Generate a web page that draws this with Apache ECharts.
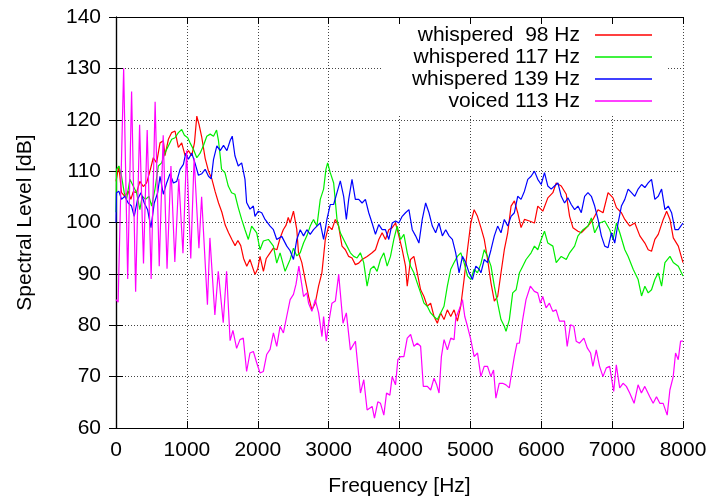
<!DOCTYPE html>
<html>
<head>
<meta charset="utf-8">
<script src="https://cdn.jsdelivr.net/npm/echarts@6/dist/echarts.min.js"></script>
<style>
  html, body { margin: 0; padding: 0; background: #fff; }
  #chart { width: 710px; height: 497px; }
</style>
</head>
<body>
<div id="chart"></div>
<script>
// spectra: [frequency Hz, level dB]
const whisper98 = [
  [0,108],[40,111],[78,105.8],[125,105.1],[172,106.1],[210,104.5],[243,106],[290,105.8],[337,108],[385,107],
  [432,107.7],[479,110],[526,112.6],[573,111.6],[621,115.5],[668,115.9],[691,113],[739,116.2],[786,117.5],[833,117.8],
  [880,114.6],[927,115.5],[975,113],[1022,114],[1069,113],[1107,115.5],[1140,120.7],[1173,119],[1211,116.5],[1258,112.5],
  [1305,110],[1352,108.5],[1399,106],[1447,103.8],[1494,102],[1541,99.5],[1588,98],[1635,96.7],[1680,95.5],[1720,96.5],
  [1760,95.5],[1800,93],[1845,91.5],[1890,92.8],[1961,89.9],[2000,91],[2032,93.4],[2080,90.5],[2120,93],[2174,94.1],
  [2220,95],[2270,94.7],[2316,97],[2360,98.6],[2400,99.5],[2430,101],[2457,99.9],[2504,102.2],[2551,98.6],[2575,94.1],
  [2622,92.2],[2669,88.9],[2717,85.6],[2764,83],[2811,84.3],[2858,87.6],[2905,90.2],[2953,96.7],[3000,99.3],[3047,98.6],
  [3094,100.6],[3141,99.3],[3189,95.4],[3236,94.7],[3283,93.4],[3330,93.1],[3377,91.8],[3425,92.1],[3472,92.8],[3543,93.4],
  [3613,94.1],[3661,94.7],[3708,96.7],[3755,98],[3802,96.7],[3849,98.6],[3897,99],[3944,99.9],[3991,97.4],[4038,94.7],
  [4085,91.5],[4109,87.6],[4156,92.8],[4203,93.4],[4251,90.2],[4298,86.9],[4345,85.6],[4392,83.7],[4439,84.3],[4487,81.7],
  [4534,80.4],[4581,82.4],[4628,81.1],[4675,83],[4723,81.7],[4770,83],[4817,80.8],[4864,83.7],[4911,88.9],[4959,94.7],
  [5006,99.9],[5053,102.5],[5100,101.2],[5149,99],[5196,96.7],[5243,92.8],[5291,88.2],[5338,84.7],[5385,85.6],[5432,90.2],
  [5479,94.7],[5527,98],[5574,103.2],[5621,104.2],[5668,101.9],[5715,99],[5763,100.6],[5833,100.3],[5904,99.9],[5951,103.2],
  [6022,102.2],[6093,104.8],[6164,105.8],[6211,107.7],[6282,107.1],[6353,105.5],[6400,101.2],[6447,99],[6518,98.3],[6565,98],
  [6659,99.3],[6730,100.6],[6801,102.5],[6872,101.9],[6943,105.8],[7013,104.8],[7061,102.9],[7131,101.9],[7179,100.6],[7249,99.3],
  [7320,99.9],[7391,97.4],[7462,96],[7509,94.7],[7556,94.4],[7603,96.7],[7651,97.7],[7721,100.6],[7769,102.2],[7816,100.6],
  [7863,97],[7934,95.4],[8000,92.2]
];

const whisper117 = [
  [0,102],[7,110.3],[40,111],[78,109],[116,105.8],[149,104.5],[196,108.4],[243,107.1],[290,105.8],[337,102.5],
  [370,105.1],[418,104.5],[465,105.1],[503,103.2],[550,106.5],[597,111],[644,111.6],[691,113.6],[739,114.9],[786,116.2],
  [833,116.5],[880,117.5],[927,118.1],[965,117],[1012,116.5],[1045,115.5],[1093,114.2],[1140,112.6],[1187,113.5],[1234,115],
  [1281,116.8],[1329,117.2],[1376,116.8],[1419,118],[1445,116],[1470,113],[1489,110.4],[1537,109.7],[1584,107.1],[1631,105.8],
  [1678,105.5],[1725,102.9],[1773,100.6],[1820,98.6],[1867,96.7],[1914,99.3],[1985,98],[2032,94.7],[2079,96.4],[2150,96.7],
  [2221,95.4],[2268,92.1],[2315,94.1],[2386,90.5],[2457,92.8],[2504,95],[2551,93.5],[2599,94.1],[2646,96],[2693,97.4],
  [2740,99.3],[2787,100.6],[2835,99.3],[2882,104.5],[2929,106.5],[2962,110.35],[2986,111.6],[3023,109.7],[3071,107.7],[3118,100.6],
  [3165,98],[3212,96.7],[3259,95.4],[3307,94.1],[3354,93.4],[3401,93.1],[3448,94.1],[3495,92.2],[3543,87.6],[3590,90.9],
  [3637,91.5],[3684,90.5],[3731,92.8],[3779,94.1],[3826,91.5],[3873,93.4],[3920,96.7],[3967,99.3],[4015,96.7],[4062,97.7],
  [4109,94.1],[4156,91.5],[4203,90.2],[4251,88.2],[4298,86.3],[4345,84.3],[4392,83.7],[4439,82.4],[4487,81.7],[4534,81.1],
  [4581,82.4],[4628,83.7],[4675,87.6],[4723,90.9],[4770,92.2],[4817,93.4],[4864,94.1],[4911,92.2],[4959,89.6],[5006,88.9],
  [5053,90.9],[5100,90.2],[5149,92],[5196,94.7],[5243,93.4],[5291,91.5],[5338,87.6],[5385,84.3],[5432,81.1],[5479,79.8],
  [5503,78.8],[5550,81.1],[5597,86.3],[5645,86.9],[5692,90.2],[5739,91.5],[5786,92.8],[5857,94.1],[5904,95.4],[5951,94.7],
  [5999,96.7],[6046,98.3],[6093,96],[6164,95.4],[6211,92.2],[6282,93.4],[6353,92.8],[6400,94.1],[6471,95.4],[6518,97.4],
  [6589,98.6],[6659,99.3],[6707,100.9],[6754,98],[6825,99.9],[6896,100.3],[6966,98.6],[7013,96.7],[7061,99.9],[7108,98],
  [7179,94.7],[7226,93.4],[7297,90.9],[7367,88.9],[7415,85.7],[7462,87.6],[7509,86.3],[7556,86.9],[7603,88.9],[7651,90.2],
  [7698,87.6],[7745,92.2],[7816,93.4],[7863,92.2],[7934,91.5],[8000,89.6]
];

const whisper139 = [
  [0,100],[7,105.8],[40,106.1],[78,104.5],[125,105.1],[172,103.8],[219,103.2],[257,101.2],[304,104.5],[352,105.8],
  [399,103.8],[446,102.5],[493,99],[540,103.8],[588,105.8],[621,109],[668,105.5],[715,107.7],[762,109.5],[810,107.7],
  [857,108],[904,110.35],[951,111.3],[984,113.5],[1022,112.3],[1069,113.5],[1116,111.5],[1163,109.2],[1211,109.5],[1258,110.35],
  [1305,109],[1343,108.5],[1376,112.3],[1423,114.9],[1470,114],[1517,115],[1565,114],[1612,116],[1640,116.8],[1678,113],
  [1725,111],[1773,111.6],[1820,108.4],[1843,103.9],[1891,102.6],[1938,103.2],[1961,101.2],[2008,102.2],[2056,101.9],[2103,100.6],
  [2174,99.3],[2221,98.6],[2268,96.7],[2339,97.3],[2410,95.4],[2457,94.5],[2504,92.8],[2551,96.7],[2599,98.6],[2646,97.4],
  [2693,98.6],[2740,97.7],[2787,98.6],[2835,99.3],[2882,99.9],[2929,96.7],[2976,100.6],[3023,103.5],[3071,103.5],[3118,105.8],
  [3165,108.1],[3212,105.1],[3250,100.6],[3283,104.5],[3330,108.4],[3377,104.5],[3425,104.5],[3472,103.8],[3519,104.5],[3566,101.9],
  [3613,99.9],[3661,97.7],[3708,99.6],[3755,98.6],[3802,98.6],[3849,96.7],[3897,99.9],[3944,100.3],[3991,99.9],[4038,101.2],
  [4085,101.9],[4133,102.5],[4180,98.6],[4227,97.4],[4274,96],[4321,100.6],[4369,103.8],[4416,101.9],[4463,99.3],[4510,98],
  [4557,99.9],[4605,97.4],[4652,98.6],[4699,97.4],[4746,96.7],[4793,94.1],[4841,90.2],[4888,93.4],[4935,92.2],[4982,90.2],
  [5029,88.9],[5077,91.5],[5124,90.9],[5149,90.2],[5196,92.8],[5243,92.2],[5291,94.7],[5338,97.4],[5385,99.3],[5432,98],
  [5479,100.6],[5527,99.3],[5574,101.2],[5621,101.9],[5668,105.1],[5715,104.5],[5763,106.1],[5810,108.4],[5857,109],[5904,110],
  [5951,108.4],[5999,107.4],[6046,109.7],[6093,107.1],[6140,106.5],[6187,107.1],[6235,107.7],[6282,105.1],[6329,103.8],[6376,104.8],
  [6423,103.5],[6471,102.5],[6518,103.2],[6565,101.9],[6612,105.1],[6659,105.8],[6707,105.1],[6754,103.2],[6801,100.6],[6848,97.4],
  [6896,95.4],[6943,95.1],[6990,98],[7037,96],[7084,99.9],[7131,103.2],[7179,104.5],[7226,106.5],[7273,105.8],[7320,105.1],
  [7367,106.5],[7415,107.4],[7462,106.8],[7509,107.7],[7556,108.4],[7603,104.5],[7651,105.1],[7698,106.5],[7745,102.5],[7792,103.2],
  [7839,101.9],[7887,98.6],[7934,98.6],[8000,99.9]
];

const voiced113 = [
  [0,85],[30,84.5],[108,130],[165,89],[220,125.5],[277,86.5],[333,119],[388,92],[440,118],[496,89],
  [552,123.5],[610,91.5],[666,117],[720,91],[775,111],[830,92.3],[886,108.5],[945,94],[996,114],[1055,93],
  [1102,112.5],[1170,95],[1208,105],[1290,84],[1325,97],[1395,82],[1443,90.5],[1513,80.5],[1560,90.5],[1610,77],
  [1650,79],[1702,75.5],[1749,77.2],[1796,77.5],[1843,71],[1890,74.6],[1938,74.9],[1985,72.7],[2032,70.7],[2079,71],
  [2126,74.3],[2174,75.3],[2221,78.5],[2268,75.9],[2315,79.8],[2362,78.5],[2410,81.8],[2457,85],[2504,86],[2540,88],
  [2580,91.5],[2620,88],[2646,85.6],[2693,86.3],[2717,84.3],[2764,82.7],[2811,85],[2859,82.4],[2906,77.8],[2929,81.7],
  [2967,76.9],[3000,80.4],[3047,84.3],[3095,84.7],[3142,89.9],[3165,90.2],[3203,80.4],[3250,82.4],[3307,75.2],[3378,76.9],
  [3449,66.8],[3496,69.4],[3543,63.5],[3614,64.2],[3647,61.9],[3694,65.1],[3732,64.8],[3779,62.5],[3817,66.8],[3864,66.4],
  [3897,70],[3944,68.4],[3977,73.3],[4015,73.9],[4062,73.9],[4109,77.5],[4157,78.2],[4204,75.9],[4251,76.5],[4298,75.9],
  [4336,68.1],[4393,68.1],[4440,67.4],[4487,69.7],[4525,68.4],[4558,66.8],[4591,73.9],[4629,77.2],[4676,75.2],[4723,77.5],
  [4770,77.2],[4794,81.4],[4841,83],[4888,85],[4921,81.7],[4959,79.8],[5006,77.2],[5053,73.9],[5101,74.6],[5148,70],
  [5195,72],[5242,72],[5289,70],[5327,71.3],[5360,65.8],[5407,68.7],[5455,68.7],[5502,68.4],[5549,67.8],[5582,70.7],
  [5620,73.9],[5658,76.5],[5691,76.5],[5738,81.1],[5785,85],[5846,87.6],[5903,86.6],[5950,86.3],[5988,84.3],[6021,85.6],
  [6068,83.4],[6115,84.3],[6163,82.7],[6210,83],[6257,80.8],[6328,80.8],[6366,75.9],[6413,80.1],[6460,79.8],[6493,76.9],
  [6540,76.5],[6602,77.5],[6649,75.6],[6696,74.6],[6729,72],[6776,75.2],[6823,72],[6871,70],[6918,71.7],[6965,72],
  [7022,67.1],[7059,72.3],[7107,67.8],[7154,68.7],[7201,68.1],[7248,66.8],[7310,64.8],[7366,68.4],[7413,66.8],[7461,68.1],
  [7531,66.1],[7579,64.8],[7626,66.1],[7673,64.8],[7720,64.8],[7777,62.5],[7815,67.4],[7862,70],[7895,74.6],[7933,73.3],
  [7966,76.9],[8000,76.9]
];

const seriesNames = ['whispered  98 Hz', 'whispered 117 Hz', 'whispered 139 Hz', 'voiced 113 Hz'];
const seriesColors = ['#ff0000', '#00ee00', '#0000ff', '#ff00ff'];
const seriesData = [whisper98, whisper117, whisper139, voiced113];

const FONT = 'Liberation Sans, Arial, sans-serif';

const chart = echarts.init(document.getElementById('chart'));

// gnuplot style: ticks inside on all four sides
const frameAxis = (extra) => Object.assign({
  type: 'value',
  axisLine: { show: true, lineStyle: { color: '#000', width: 1.2 } },
  axisTick: { show: true, inside: true, length: 7, lineStyle: { color: '#000' } },
  axisLabel: { show: false },
  splitLine: { show: false }
}, extra);

chart.setOption({
  animation: false,
  backgroundColor: '#fff',
  textStyle: { fontFamily: FONT },
  grid: { left: 116, right: 27, top: 17, bottom: 69, containLabel: false, outerBoundsMode: 'none' },
  legend: {
    data: seriesNames,
    orient: 'vertical',
    align: 'right',
    right: 42,
    top: 24,
    padding: [0, 16, 2, 30],
    itemGap: 0,
    itemWidth: 57,
    itemHeight: 1.5,
    icon: 'rect',
    backgroundColor: '#fff',
    textStyle: { fontFamily: FONT, fontSize: 21, color: '#000', lineHeight: 22, padding: [0, 10, 0, 0] }
  },
  xAxis: [
    frameAxis({
      min: 0, max: 8000, interval: 1000,
      name: 'Frequency [Hz]',
      nameLocation: 'middle',
      nameGap: 48,
      nameTextStyle: { fontFamily: FONT, fontSize: 21, color: '#000' },
      axisLabel: { show: true, margin: 12, fontFamily: FONT, fontSize: 21, color: '#000', formatter: (v) => String(v) },
      splitLine: { show: true, lineStyle: { color: '#444', width: 1, type: [1, 2] } }
    }),
    frameAxis({ min: 0, max: 8000, interval: 1000, position: 'top' })
  ],
  yAxis: [
    frameAxis({
      min: 60, max: 140, interval: 10,
      name: 'Spectral Level [dB]',
      nameLocation: 'middle',
      nameGap: 80,
      nameTextStyle: { fontFamily: FONT, fontSize: 21, color: '#000' },
      axisLabel: { show: true, margin: 15, fontFamily: FONT, fontSize: 21, color: '#000', formatter: (v) => String(v) },
      splitLine: { show: true, lineStyle: { color: '#444', width: 1, type: [1, 2] } }
    }),
    frameAxis({ min: 60, max: 140, interval: 10, position: 'right' })
  ],
  series: seriesNames.map((name, i) => ({
    name: name,
    type: 'line',
    xAxisIndex: 0,
    yAxisIndex: 0,
    data: seriesData[i],
    showSymbol: false,
    symbol: 'none',
    color: seriesColors[i],
    lineStyle: { color: seriesColors[i], width: 1.2 }
  }))
});
</script>
</body>
</html>
